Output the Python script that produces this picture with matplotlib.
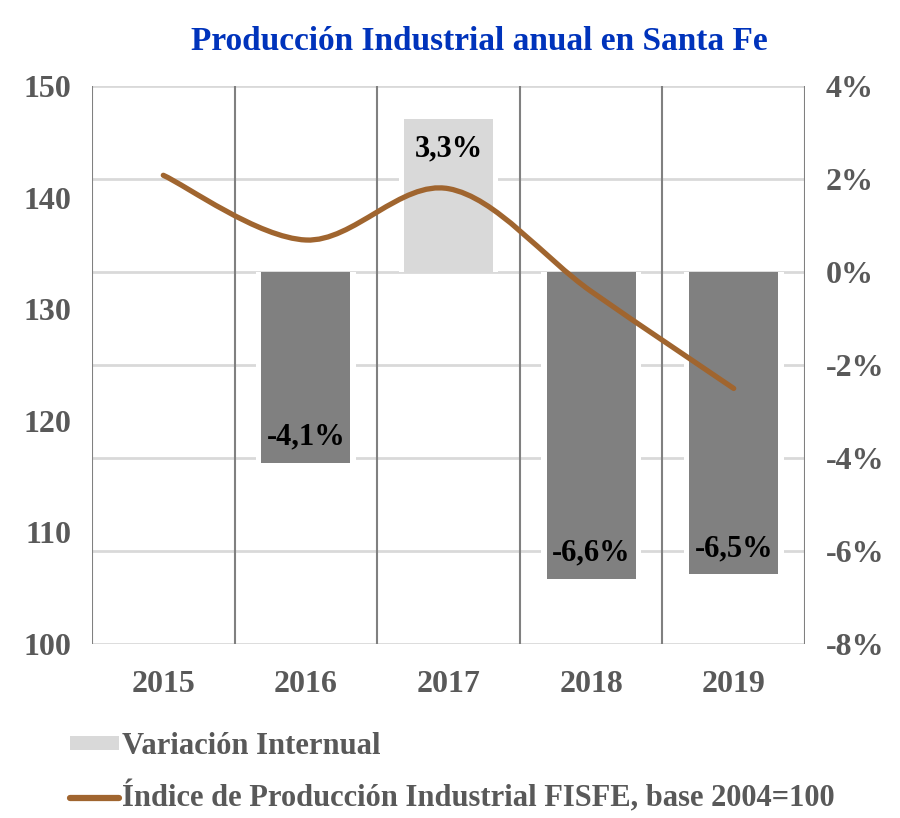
import numpy as np
import matplotlib
matplotlib.use('Agg')
import matplotlib.pyplot as plt
from matplotlib.path import Path
from matplotlib.patches import PathPatch, Patch
from matplotlib.lines import Line2D
from matplotlib.ticker import FuncFormatter

plt.rcParams['font.family'] = ['Liberation Serif', 'DejaVu Serif']
plt.rcParams['font.weight'] = 'bold'

# data
years = ['2015', '2016', '2017', '2018', '2019']
indice = [142.0, 136.2, 140.8, 131.6, 122.9]
variacion = [None, -4.1, 3.3, -6.6, -6.5]
var_labels = ['', '-4,1%', '3,3%', '-6,6%', '-6,5%']

left_ticks = [100, 110, 120, 130, 140, 150]
right_ticks = [-8, -6, -4, -2, 0, 2, 4]

c_text = '#595959'
c_light = '#d9d9d9'
c_dark = '#808080'
c_line = '#a0652f'

fig = plt.figure(figsize=(9, 8.18), dpi=100)
ax = fig.add_axes([92 / 900, 1 - 644 / 818, 713 / 900, 558 / 818])
ax2 = ax.twinx()

# bars on the right axis, behind the line
x = np.arange(len(years))
bx = [i for i, v in zip(x, variacion) if v is not None]
bv = [v for v in variacion if v is not None]
bl = [l for l, v in zip(var_labels, variacion) if v is not None]
bcol = [c_light if v > 0 else c_dark for v in bv]
# white halo that cuts the gridlines next to each bar
ax2.bar(bx, bv, width=0.70, color='white', linewidth=0, zorder=1.5)
bars = ax2.bar(bx, bv, width=0.625, color=bcol, linewidth=0, zorder=2)
for rect, lab, v in zip(bars, bl, bv):
    cx = rect.get_x() + rect.get_width() / 2
    ty = v - 0.65 if v > 0 else v + 0.55
    ax2.text(cx, ty, lab, ha='center', va='center', fontsize=22, color='black',
             fontweight='bold', zorder=5)

ax2.set_ylim(-8, 4)
ax2.set_yticks(right_ticks)
ax2.yaxis.set_major_formatter(FuncFormatter(lambda v, p: '%d%%' % v))
ax2.grid(axis='y', color=c_light, linewidth=2, zorder=0)
ax2.set_axisbelow(True)

# smoothed index line (Catmull-Rom through the data points)
pts = np.column_stack([x, indice])
ext = np.vstack([pts[0], pts, pts[-1]])
verts = [tuple(pts[0])]
codes = [Path.MOVETO]
for i in range(len(pts) - 1):
    p0, p1, p2, p3 = ext[i], ext[i + 1], ext[i + 2], ext[i + 3]
    c1 = p1 + (p2 - p0) / 6
    c2 = p2 - (p3 - p1) / 6
    verts += [tuple(c1), tuple(c2), tuple(p2)]
    codes += [Path.CURVE4] * 3
ax.add_patch(PathPatch(Path(verts, codes), fill=False, edgecolor=c_line,
                       linewidth=3.8, capstyle='round', zorder=4))

ax.set_xlim(-0.5, len(years) - 0.5)
ax.set_ylim(100, 150)
ax.set_yticks(left_ticks)
ax.set_xticks(x)
ax.set_xticklabels(years)
for b in np.arange(-0.5, len(years), 1.0):
    ax.axvline(b, color=c_dark, linewidth=1.5, zorder=3)

ax.set_zorder(ax2.get_zorder() + 1)
ax.patch.set_visible(False)
ax2.patch.set_visible(True)
ax2.patch.set_facecolor('white')

for a in (ax, ax2):
    for s in a.spines.values():
        s.set_visible(False)
ax.tick_params(axis='both', length=0, labelsize=23, labelcolor=c_text)
ax.tick_params(axis='y', pad=15)
ax.tick_params(axis='x', pad=19)
ax2.tick_params(axis='y', length=0, labelsize=23, labelcolor=c_text, pad=15)

fig.text(479 / 900, 1 - 42 / 818, 'Producción Industrial anual en Santa Fe',
         ha='center', va='center', fontsize=24, fontweight='bold', color='#0033bb')

handles = [Patch(facecolor=c_light, edgecolor='none', label='Variación Internual'),
           Line2D([], [], color=c_line, linewidth=4.5, solid_capstyle='round',
                  label='Índice de Producción Industrial FISFE, base 2004=100')]
leg = fig.legend(handles=handles, loc='upper left', bbox_to_anchor=(58 / 900, 1 - 720 / 818),
                 frameon=False, fontsize=22, handlelength=1.6, handleheight=0.33,
                 handletextpad=0.1, labelspacing=0.67, borderaxespad=0)
for t in leg.get_texts():
    t.set_color(c_text)

fig.savefig('out.png', dpi=100)
